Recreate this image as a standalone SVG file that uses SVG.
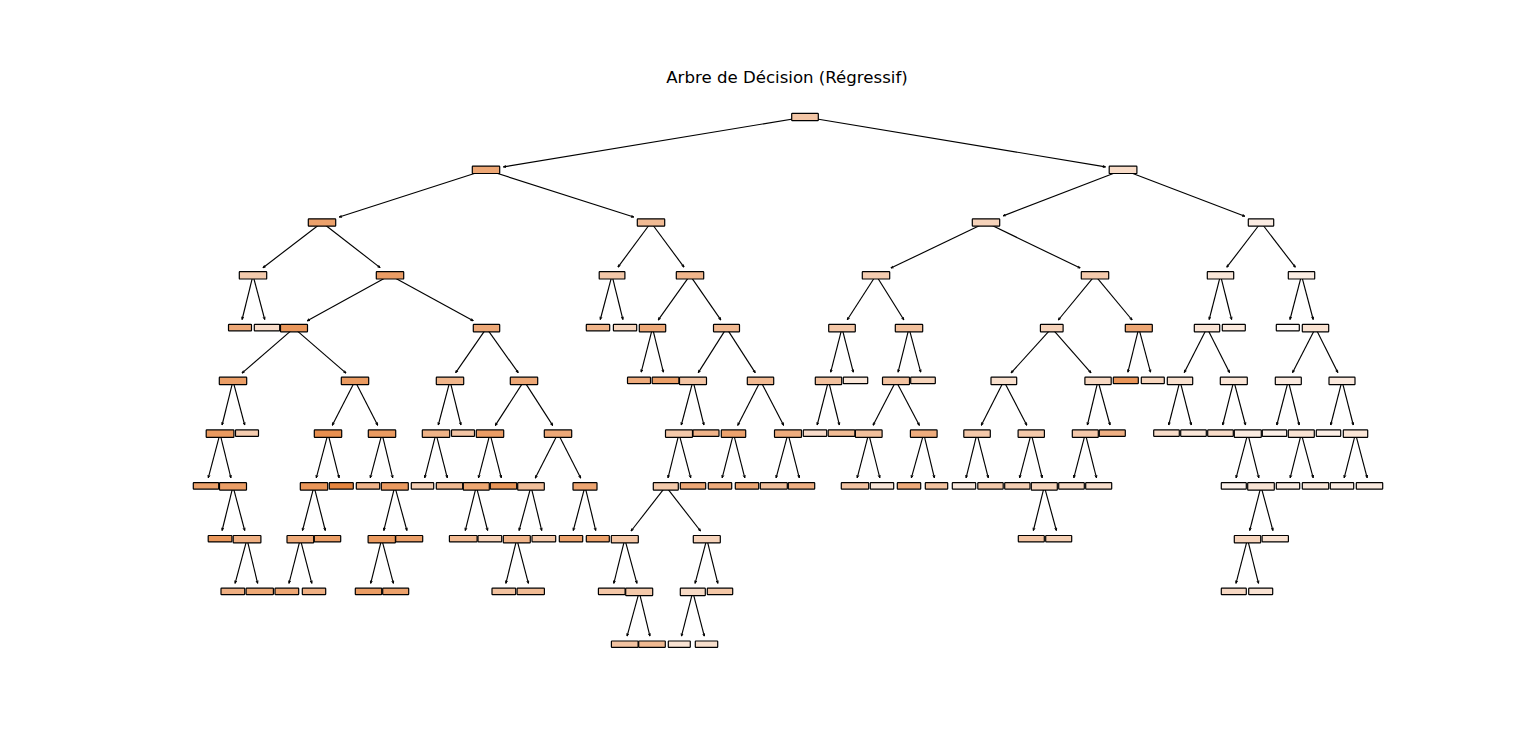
<svg xmlns="http://www.w3.org/2000/svg" width="1536" height="754" viewBox="0 0 1536 754">
<style>
.bg{fill:#ffffff}
.title{font-family:"DejaVu Sans","Liberation Sans",sans-serif;font-size:16.6px;fill:#000}
.node rect{stroke:#000;stroke-width:1.2;rx:0.6;ry:0.6}
.edges line{stroke:#000;stroke-width:1.15;fill:none;marker-end:url(#ah)}
</style>
<defs>
<marker id="ah" markerUnits="userSpaceOnUse" markerWidth="3.4" markerHeight="3.4" viewBox="0 0 3 3" refX="2.6" refY="1.5" orient="auto">
<path d="M0.3,0.6 L2.6,1.5 L0.3,2.4" fill="none" stroke="#000" stroke-width="0.8"/>
</marker>
</defs>
<rect class="bg" x="0" y="0" width="1536" height="754"/>
<text class="title" x="787" y="82.6" text-anchor="middle">Arbre de Décision (Régressif)</text>
<g id="connectors" class="edges">
<line x1="805" y1="117" x2="503.4" y2="166.9"/>
<line x1="805" y1="117" x2="1105.5" y2="166.9"/>
<line x1="486" y1="169.8" x2="339.3" y2="217.0"/>
<line x1="486" y1="169.8" x2="633.7" y2="217.0"/>
<line x1="1123" y1="169.8" x2="1003.2" y2="215.9"/>
<line x1="1123" y1="169.8" x2="1244.8" y2="216.3"/>
<line x1="322" y1="222.5" x2="263.0" y2="267.7"/>
<line x1="322" y1="222.5" x2="380.1" y2="267.6"/>
<line x1="651" y1="222.5" x2="618.0" y2="267.1"/>
<line x1="651" y1="222.5" x2="684.0" y2="267.1"/>
<line x1="986" y1="222.5" x2="890.9" y2="268.1"/>
<line x1="986" y1="222.5" x2="1080.2" y2="268.1"/>
<line x1="1261" y1="222.5" x2="1226.8" y2="267.2"/>
<line x1="1261" y1="222.5" x2="1295.3" y2="267.2"/>
<line x1="253" y1="275.3" x2="242.1" y2="319.5"/>
<line x1="253" y1="275.3" x2="264.7" y2="319.5"/>
<line x1="390" y1="275.3" x2="307.3" y2="320.8"/>
<line x1="390" y1="275.3" x2="473.2" y2="320.8"/>
<line x1="612" y1="275.3" x2="600.3" y2="319.5"/>
<line x1="612" y1="275.3" x2="622.9" y2="319.5"/>
<line x1="690" y1="275.3" x2="658.3" y2="319.9"/>
<line x1="690" y1="275.3" x2="720.8" y2="319.9"/>
<line x1="876" y1="275.3" x2="847.3" y2="319.8"/>
<line x1="876" y1="275.3" x2="903.8" y2="319.8"/>
<line x1="1095" y1="275.3" x2="1058.3" y2="320.0"/>
<line x1="1095" y1="275.3" x2="1132.1" y2="320.0"/>
<line x1="1220.5" y1="275.3" x2="1209.2" y2="319.5"/>
<line x1="1220.5" y1="275.3" x2="1231.6" y2="319.5"/>
<line x1="1301.5" y1="275.3" x2="1290.0" y2="319.5"/>
<line x1="1301.5" y1="275.3" x2="1313.2" y2="319.5"/>
<line x1="294" y1="328.1" x2="242.0" y2="373.1"/>
<line x1="294" y1="328.1" x2="346.0" y2="373.1"/>
<line x1="486.5" y1="328.1" x2="455.7" y2="372.6"/>
<line x1="486.5" y1="328.1" x2="518.2" y2="372.7"/>
<line x1="652.5" y1="328.1" x2="641.2" y2="372.2"/>
<line x1="652.5" y1="328.1" x2="663.4" y2="372.2"/>
<line x1="726.5" y1="328.1" x2="698.3" y2="372.6"/>
<line x1="726.5" y1="328.1" x2="755.2" y2="372.6"/>
<line x1="842" y1="328.1" x2="830.7" y2="372.2"/>
<line x1="842" y1="328.1" x2="853.3" y2="372.2"/>
<line x1="909" y1="328.1" x2="898.1" y2="372.2"/>
<line x1="909" y1="328.1" x2="920.7" y2="372.2"/>
<line x1="1051.7" y1="328.1" x2="1011.1" y2="372.9"/>
<line x1="1051.7" y1="328.1" x2="1091.0" y2="372.8"/>
<line x1="1138.8" y1="328.1" x2="1127.9" y2="372.2"/>
<line x1="1138.8" y1="328.1" x2="1150.5" y2="372.2"/>
<line x1="1207" y1="328.1" x2="1184.3" y2="372.5"/>
<line x1="1207" y1="328.1" x2="1229.5" y2="372.5"/>
<line x1="1315.5" y1="328.1" x2="1292.6" y2="372.5"/>
<line x1="1315.5" y1="328.1" x2="1337.8" y2="372.5"/>
<line x1="233" y1="380.9" x2="222.1" y2="425.0"/>
<line x1="233" y1="380.9" x2="244.7" y2="425.0"/>
<line x1="355" y1="380.9" x2="332.3" y2="425.2"/>
<line x1="355" y1="380.9" x2="377.7" y2="425.2"/>
<line x1="450" y1="380.9" x2="438.3" y2="425.0"/>
<line x1="450" y1="380.9" x2="460.9" y2="425.0"/>
<line x1="524" y1="380.9" x2="495.3" y2="425.4"/>
<line x1="524" y1="380.9" x2="552.7" y2="425.4"/>
<line x1="693" y1="380.9" x2="681.3" y2="425.0"/>
<line x1="693" y1="380.9" x2="703.9" y2="425.0"/>
<line x1="760.5" y1="380.9" x2="737.8" y2="425.2"/>
<line x1="760.5" y1="380.9" x2="783.6" y2="425.2"/>
<line x1="828.5" y1="380.9" x2="817.2" y2="425.0"/>
<line x1="828.5" y1="380.9" x2="839.4" y2="425.0"/>
<line x1="896" y1="380.9" x2="873.1" y2="425.2"/>
<line x1="896" y1="380.9" x2="919.3" y2="425.2"/>
<line x1="1003.8" y1="380.9" x2="981.3" y2="425.2"/>
<line x1="1003.8" y1="380.9" x2="1026.8" y2="425.2"/>
<line x1="1098" y1="380.9" x2="1087.4" y2="425.0"/>
<line x1="1098" y1="380.9" x2="1110.0" y2="425.0"/>
<line x1="1180" y1="380.9" x2="1168.7" y2="425.0"/>
<line x1="1180" y1="380.9" x2="1191.3" y2="425.0"/>
<line x1="1233.8" y1="380.9" x2="1222.7" y2="425.0"/>
<line x1="1233.8" y1="380.9" x2="1245.5" y2="425.0"/>
<line x1="1288.3" y1="380.9" x2="1276.8" y2="425.0"/>
<line x1="1288.3" y1="380.9" x2="1299.2" y2="425.0"/>
<line x1="1342" y1="380.9" x2="1330.7" y2="425.0"/>
<line x1="1342" y1="380.9" x2="1353.3" y2="425.0"/>
<line x1="220" y1="433.6" x2="208.3" y2="477.8"/>
<line x1="220" y1="433.6" x2="230.9" y2="477.8"/>
<line x1="328" y1="433.6" x2="316.3" y2="477.8"/>
<line x1="328" y1="433.6" x2="339.1" y2="477.8"/>
<line x1="382" y1="433.6" x2="370.3" y2="477.8"/>
<line x1="382" y1="433.6" x2="392.7" y2="477.8"/>
<line x1="436" y1="433.6" x2="424.7" y2="477.8"/>
<line x1="436" y1="433.6" x2="447.3" y2="477.8"/>
<line x1="490" y1="433.6" x2="478.5" y2="477.8"/>
<line x1="490" y1="433.6" x2="501.3" y2="477.8"/>
<line x1="558" y1="433.6" x2="535.3" y2="478.0"/>
<line x1="558" y1="433.6" x2="580.7" y2="478.0"/>
<line x1="679" y1="433.6" x2="668.0" y2="477.8"/>
<line x1="679" y1="433.6" x2="690.7" y2="477.8"/>
<line x1="733.5" y1="433.6" x2="722.2" y2="477.8"/>
<line x1="733.5" y1="433.6" x2="744.8" y2="477.8"/>
<line x1="788" y1="433.6" x2="776.1" y2="477.8"/>
<line x1="788" y1="433.6" x2="799.3" y2="477.8"/>
<line x1="868.7" y1="433.6" x2="857.2" y2="477.8"/>
<line x1="868.7" y1="433.6" x2="879.8" y2="477.8"/>
<line x1="923.7" y1="433.6" x2="911.4" y2="477.8"/>
<line x1="923.7" y1="433.6" x2="934.4" y2="477.8"/>
<line x1="977" y1="433.6" x2="966.1" y2="477.8"/>
<line x1="977" y1="433.6" x2="988.3" y2="477.8"/>
<line x1="1031.2" y1="433.6" x2="1019.6" y2="477.8"/>
<line x1="1031.2" y1="433.6" x2="1042.2" y2="477.8"/>
<line x1="1085.3" y1="433.6" x2="1073.8" y2="477.8"/>
<line x1="1085.3" y1="433.6" x2="1096.5" y2="477.8"/>
<line x1="1247.8" y1="433.6" x2="1236.1" y2="477.8"/>
<line x1="1247.8" y1="433.6" x2="1258.8" y2="477.8"/>
<line x1="1301.3" y1="433.6" x2="1290.2" y2="477.8"/>
<line x1="1301.3" y1="433.6" x2="1313.2" y2="477.8"/>
<line x1="1355.5" y1="433.6" x2="1344.2" y2="477.8"/>
<line x1="1355.5" y1="433.6" x2="1367.2" y2="477.8"/>
<line x1="233" y1="486.4" x2="222.1" y2="530.5"/>
<line x1="233" y1="486.4" x2="244.7" y2="530.5"/>
<line x1="314" y1="486.4" x2="302.5" y2="530.5"/>
<line x1="314" y1="486.4" x2="325.3" y2="530.5"/>
<line x1="394.8" y1="486.4" x2="383.8" y2="530.5"/>
<line x1="394.8" y1="486.4" x2="406.9" y2="530.5"/>
<line x1="476.3" y1="486.4" x2="465.3" y2="530.5"/>
<line x1="476.3" y1="486.4" x2="487.6" y2="530.5"/>
<line x1="531" y1="486.4" x2="519.1" y2="530.5"/>
<line x1="531" y1="486.4" x2="541.7" y2="530.5"/>
<line x1="585" y1="486.4" x2="573.3" y2="530.5"/>
<line x1="585" y1="486.4" x2="595.7" y2="530.5"/>
<line x1="665.8" y1="486.4" x2="631.1" y2="531.0"/>
<line x1="665.8" y1="486.4" x2="700.5" y2="531.0"/>
<line x1="1044.3" y1="486.4" x2="1033.4" y2="530.5"/>
<line x1="1044.3" y1="486.4" x2="1056.4" y2="530.5"/>
<line x1="1261" y1="486.4" x2="1249.7" y2="530.5"/>
<line x1="1261" y1="486.4" x2="1272.9" y2="530.5"/>
<line x1="247" y1="539.2" x2="235.1" y2="583.3"/>
<line x1="247" y1="539.2" x2="257.6" y2="583.3"/>
<line x1="300.3" y1="539.2" x2="289.0" y2="583.3"/>
<line x1="300.3" y1="539.2" x2="311.8" y2="583.3"/>
<line x1="381.7" y1="539.2" x2="370.7" y2="583.3"/>
<line x1="381.7" y1="539.2" x2="393.4" y2="583.3"/>
<line x1="516.8" y1="539.2" x2="505.9" y2="583.3"/>
<line x1="516.8" y1="539.2" x2="528.4" y2="583.3"/>
<line x1="624.8" y1="539.2" x2="613.8" y2="583.3"/>
<line x1="624.8" y1="539.2" x2="636.9" y2="583.3"/>
<line x1="706.8" y1="539.2" x2="695.1" y2="583.3"/>
<line x1="706.8" y1="539.2" x2="717.8" y2="583.3"/>
<line x1="1247.5" y1="539.2" x2="1236.0" y2="583.3"/>
<line x1="1247.5" y1="539.2" x2="1258.5" y2="583.3"/>
<line x1="639.2" y1="591.9" x2="627.1" y2="636.1"/>
<line x1="639.2" y1="591.9" x2="649.9" y2="636.1"/>
<line x1="692.8" y1="591.9" x2="681.5" y2="636.1"/>
<line x1="692.8" y1="591.9" x2="704.3" y2="636.1"/>
</g>
<g id="n0" class="node"><rect x="791.7" y="113.3" width="26.6" height="7.4" fill="#f3c6a6"/></g>
<g id="n1" class="node"><rect x="472.3" y="166.1" width="27.4" height="7.4" fill="#eda775"/></g>
<g id="n2" class="node"><rect x="1109.2" y="166.1" width="27.7" height="7.4" fill="#f8dcc8"/></g>
<g id="n3" class="node"><rect x="308.3" y="218.8" width="27.4" height="7.4" fill="#eca16b"/></g>
<g id="n4" class="node"><rect x="637.3" y="218.8" width="27.4" height="7.4" fill="#f1bb94"/></g>
<g id="n5" class="node"><rect x="972.3" y="218.8" width="27.4" height="7.4" fill="#f6d3ba"/></g>
<g id="n6" class="node"><rect x="1248.3" y="218.8" width="25.4" height="7.4" fill="#fbece2"/></g>
<g id="n7" class="node"><rect x="239.3" y="271.6" width="27.4" height="7.4" fill="#f4cbad"/></g>
<g id="n8" class="node"><rect x="376.3" y="271.6" width="27.4" height="7.4" fill="#eb9d65"/></g>
<g id="n9" class="node"><rect x="599.2" y="271.6" width="25.7" height="7.4" fill="#f4c8a9"/></g>
<g id="n10" class="node"><rect x="676.3" y="271.6" width="27.4" height="7.4" fill="#f1b68c"/></g>
<g id="n11" class="node"><rect x="862.3" y="271.6" width="27.4" height="7.4" fill="#f5cdb1"/></g>
<g id="n12" class="node"><rect x="1081.3" y="271.6" width="27.4" height="7.4" fill="#f5cbad"/></g>
<g id="n13" class="node"><rect x="1207.3" y="271.6" width="26.4" height="7.4" fill="#fae7d9"/></g>
<g id="n14" class="node"><rect x="1288.3" y="271.6" width="26.4" height="7.4" fill="#fbede3"/></g>
<g id="n15" class="node"><rect x="228.5" y="324.4" width="23" height="6.4" fill="#eda877"/></g>
<g id="n16" class="node"><rect x="254.3" y="324.4" width="25.4" height="6.4" fill="#f8dcc9"/></g>
<g id="n17" class="node"><rect x="280.5" y="324.4" width="27" height="7.4" fill="#e9965a"/></g>
<g id="n18" class="node"><rect x="473.3" y="324.4" width="26.4" height="7.4" fill="#eda877"/></g>
<g id="n19" class="node"><rect x="586.3" y="324.4" width="23.4" height="6.4" fill="#f0b58a"/></g>
<g id="n20" class="node"><rect x="613.4" y="324.4" width="23.3" height="6.4" fill="#f6d5bd"/></g>
<g id="n21" class="node"><rect x="639.3" y="324.4" width="26.4" height="7.4" fill="#eda877"/></g>
<g id="n22" class="node"><rect x="713.5" y="324.4" width="26" height="7.4" fill="#f1b991"/></g>
<g id="n23" class="node"><rect x="828.7" y="324.4" width="26.6" height="7.4" fill="#f4c7a7"/></g>
<g id="n24" class="node"><rect x="895.3" y="324.4" width="27.4" height="7.4" fill="#f2c09c"/></g>
<g id="n25" class="node"><rect x="1040.4" y="324.4" width="22.7" height="7.4" fill="#f6d2b9"/></g>
<g id="n26" class="node"><rect x="1125.3" y="324.4" width="27" height="7.4" fill="#eda673"/></g>
<g id="n27" class="node"><rect x="1194.3" y="324.4" width="25.4" height="7.4" fill="#f9e3d4"/></g>
<g id="n28" class="node"><rect x="1222.3" y="324.4" width="23" height="6.4" fill="#fbeade"/></g>
<g id="n29" class="node"><rect x="1276.3" y="324.4" width="23" height="6.4" fill="#fdf8f5"/></g>
<g id="n30" class="node"><rect x="1302.3" y="324.4" width="26.4" height="7.4" fill="#f9e2d1"/></g>
<g id="n31" class="node"><rect x="219.3" y="377.2" width="27.4" height="7.4" fill="#eb9e66"/></g>
<g id="n32" class="node"><rect x="341.3" y="377.2" width="27.4" height="7.4" fill="#ea9a60"/></g>
<g id="n33" class="node"><rect x="436.3" y="377.2" width="27.4" height="7.4" fill="#f0b58a"/></g>
<g id="n34" class="node"><rect x="510.3" y="377.2" width="27.4" height="7.4" fill="#eda775"/></g>
<g id="n35" class="node"><rect x="627.5" y="377.2" width="23" height="6.4" fill="#eeab7c"/></g>
<g id="n36" class="node"><rect x="652.2" y="377.2" width="26.7" height="6.4" fill="#eb9f68"/></g>
<g id="n37" class="node"><rect x="679.5" y="377.2" width="27" height="7.4" fill="#f3c4a3"/></g>
<g id="n38" class="node"><rect x="747.3" y="377.2" width="26.4" height="7.4" fill="#f1b991"/></g>
<g id="n39" class="node"><rect x="815.3" y="377.2" width="26.4" height="7.4" fill="#f2c19e"/></g>
<g id="n40" class="node"><rect x="843.3" y="377.2" width="24.4" height="6.4" fill="#fae7d9"/></g>
<g id="n41" class="node"><rect x="882.5" y="377.2" width="27" height="7.4" fill="#f3c3a1"/></g>
<g id="n42" class="node"><rect x="910.7" y="377.2" width="24.6" height="6.4" fill="#f6d4bb"/></g>
<g id="n43" class="node"><rect x="991.0" y="377.2" width="25.7" height="7.4" fill="#f8dfcc"/></g>
<g id="n44" class="node"><rect x="1084.9" y="377.2" width="26.3" height="7.4" fill="#f7d8c2"/></g>
<g id="n45" class="node"><rect x="1113.3" y="377.2" width="25" height="6.4" fill="#e99559"/></g>
<g id="n46" class="node"><rect x="1141.3" y="377.2" width="23" height="6.4" fill="#f7d6be"/></g>
<g id="n47" class="node"><rect x="1167.3" y="377.2" width="25.4" height="7.4" fill="#f8e0ce"/></g>
<g id="n48" class="node"><rect x="1220.3" y="377.2" width="27" height="7.4" fill="#fae5d6"/></g>
<g id="n49" class="node"><rect x="1275.3" y="377.2" width="26" height="7.4" fill="#fbeadf"/></g>
<g id="n50" class="node"><rect x="1329" y="377.2" width="26" height="7.4" fill="#fbe9dd"/></g>
<g id="n51" class="node"><rect x="206.2" y="429.9" width="27.7" height="7.4" fill="#ea9a5f"/></g>
<g id="n52" class="node"><rect x="235.5" y="429.9" width="23" height="6.4" fill="#f5cdb0"/></g>
<g id="n53" class="node"><rect x="314.3" y="429.9" width="27.4" height="7.4" fill="#e88f4f"/></g>
<g id="n54" class="node"><rect x="368.3" y="429.9" width="27.4" height="7.4" fill="#ea9b61"/></g>
<g id="n55" class="node"><rect x="422.3" y="429.9" width="27.4" height="7.4" fill="#efb387"/></g>
<g id="n56" class="node"><rect x="451.5" y="429.9" width="23" height="6.4" fill="#f3c5a5"/></g>
<g id="n57" class="node"><rect x="476.3" y="429.9" width="27.4" height="7.4" fill="#eb9d65"/></g>
<g id="n58" class="node"><rect x="544.3" y="429.9" width="27.4" height="7.4" fill="#eda877"/></g>
<g id="n59" class="node"><rect x="665.5" y="429.9" width="27" height="7.4" fill="#f4c9aa"/></g>
<g id="n60" class="node"><rect x="693" y="429.9" width="26" height="6.4" fill="#f0b48a"/></g>
<g id="n61" class="node"><rect x="721.3" y="429.9" width="24.4" height="7.4" fill="#eca26d"/></g>
<g id="n62" class="node"><rect x="774.5" y="429.9" width="27" height="7.4" fill="#eeac7d"/></g>
<g id="n63" class="node"><rect x="803.3" y="429.9" width="23.4" height="6.4" fill="#f8dccb"/></g>
<g id="n64" class="node"><rect x="828.2" y="429.9" width="26.7" height="6.4" fill="#f1bc95"/></g>
<g id="n65" class="node"><rect x="855.4" y="429.9" width="26.7" height="7.4" fill="#f2c09c"/></g>
<g id="n66" class="node"><rect x="910.4" y="429.9" width="26.7" height="7.4" fill="#eeac7d"/></g>
<g id="n67" class="node"><rect x="963.8" y="429.9" width="26.5" height="7.4" fill="#f4c8a9"/></g>
<g id="n68" class="node"><rect x="1018.1" y="429.9" width="26.3" height="7.4" fill="#f4c9aa"/></g>
<g id="n69" class="node"><rect x="1072.3" y="429.9" width="26" height="7.4" fill="#f4c8aa"/></g>
<g id="n70" class="node"><rect x="1099.3" y="429.9" width="26" height="6.4" fill="#efb084"/></g>
<g id="n71" class="node"><rect x="1153.7" y="429.9" width="25.6" height="6.4" fill="#f8ddca"/></g>
<g id="n72" class="node"><rect x="1180.7" y="429.9" width="25.6" height="6.4" fill="#fae7d9"/></g>
<g id="n73" class="node"><rect x="1207.7" y="429.9" width="25.6" height="6.4" fill="#f8dcc8"/></g>
<g id="n74" class="node"><rect x="1234.3" y="429.9" width="27" height="7.4" fill="#faebe0"/></g>
<g id="n75" class="node"><rect x="1262.3" y="429.9" width="24.4" height="6.4" fill="#fcf0e8"/></g>
<g id="n76" class="node"><rect x="1288.3" y="429.9" width="26" height="7.4" fill="#f9e3d3"/></g>
<g id="n77" class="node"><rect x="1316.3" y="429.9" width="24.4" height="6.4" fill="#fcefe6"/></g>
<g id="n78" class="node"><rect x="1343.3" y="429.9" width="24.4" height="7.4" fill="#fae6d7"/></g>
<g id="n79" class="node"><rect x="193.3" y="482.7" width="25.4" height="6.4" fill="#eca26c"/></g>
<g id="n80" class="node"><rect x="219.5" y="482.7" width="27" height="7.4" fill="#eb9e66"/></g>
<g id="n81" class="node"><rect x="300.3" y="482.7" width="27.4" height="7.4" fill="#ea9659"/></g>
<g id="n82" class="node"><rect x="329.3" y="482.7" width="24" height="6.4" fill="#e68640"/></g>
<g id="n83" class="node"><rect x="356.3" y="482.7" width="23.4" height="6.4" fill="#f0b48a"/></g>
<g id="n84" class="node"><rect x="381.3" y="482.7" width="27" height="7.4" fill="#ea9a60"/></g>
<g id="n85" class="node"><rect x="411.3" y="482.7" width="22.4" height="6.4" fill="#f5cfb3"/></g>
<g id="n86" class="node"><rect x="436.3" y="482.7" width="26.4" height="6.4" fill="#f1ba92"/></g>
<g id="n87" class="node"><rect x="463.3" y="482.7" width="26" height="7.4" fill="#eea873"/></g>
<g id="n88" class="node"><rect x="490.3" y="482.7" width="26.4" height="6.4" fill="#e99659"/></g>
<g id="n89" class="node"><rect x="517.7" y="482.7" width="26.6" height="7.4" fill="#f2bf9a"/></g>
<g id="n90" class="node"><rect x="573" y="482.7" width="24" height="7.4" fill="#eda571"/></g>
<g id="n91" class="node"><rect x="653.3" y="482.7" width="25" height="7.4" fill="#f4caab"/></g>
<g id="n92" class="node"><rect x="680.3" y="482.7" width="25.4" height="6.4" fill="#eda877"/></g>
<g id="n93" class="node"><rect x="708.3" y="482.7" width="23.4" height="6.4" fill="#eeac7d"/></g>
<g id="n94" class="node"><rect x="735.3" y="482.7" width="23.4" height="6.4" fill="#eda774"/></g>
<g id="n95" class="node"><rect x="760.3" y="482.7" width="27" height="6.4" fill="#f2c09c"/></g>
<g id="n96" class="node"><rect x="788.3" y="482.7" width="26.4" height="6.4" fill="#efb084"/></g>
<g id="n97" class="node"><rect x="841.3" y="482.7" width="27.4" height="6.4" fill="#f3c4a3"/></g>
<g id="n98" class="node"><rect x="870.3" y="482.7" width="23.4" height="6.4" fill="#fae6d8"/></g>
<g id="n99" class="node"><rect x="897.3" y="482.7" width="23.4" height="6.4" fill="#eeab7b"/></g>
<g id="n100" class="node"><rect x="925.3" y="482.7" width="22.4" height="6.4" fill="#f3c3a0"/></g>
<g id="n101" class="node"><rect x="952.3" y="482.7" width="23.4" height="6.4" fill="#fae8dc"/></g>
<g id="n102" class="node"><rect x="977.8" y="482.7" width="25.4" height="6.4" fill="#f4caac"/></g>
<g id="n103" class="node"><rect x="1004.7" y="482.7" width="25.3" height="6.4" fill="#f5cfb4"/></g>
<g id="n104" class="node"><rect x="1031.3" y="482.7" width="26" height="7.4" fill="#f6d4bb"/></g>
<g id="n105" class="node"><rect x="1058.7" y="482.7" width="25.6" height="6.4" fill="#f7d9c3"/></g>
<g id="n106" class="node"><rect x="1085.7" y="482.7" width="26" height="6.4" fill="#f8decb"/></g>
<g id="n107" class="node"><rect x="1221.3" y="482.7" width="25" height="6.4" fill="#fcf1ea"/></g>
<g id="n108" class="node"><rect x="1247.7" y="482.7" width="26.6" height="7.4" fill="#f9e4d4"/></g>
<g id="n109" class="node"><rect x="1276.3" y="482.7" width="23.4" height="6.4" fill="#fbece1"/></g>
<g id="n110" class="node"><rect x="1302.3" y="482.7" width="26.4" height="6.4" fill="#fae7d9"/></g>
<g id="n111" class="node"><rect x="1330.3" y="482.7" width="23.4" height="6.4" fill="#fbece2"/></g>
<g id="n112" class="node"><rect x="1356.3" y="482.7" width="26.4" height="6.4" fill="#faeadf"/></g>
<g id="n113" class="node"><rect x="208.2" y="535.5" width="23.7" height="6.4" fill="#e9975b"/></g>
<g id="n114" class="node"><rect x="233.2" y="535.5" width="27.7" height="7.4" fill="#efb083"/></g>
<g id="n115" class="node"><rect x="287.0" y="535.5" width="26.7" height="7.4" fill="#eeaa79"/></g>
<g id="n116" class="node"><rect x="314.3" y="535.5" width="26.4" height="6.4" fill="#eb9e66"/></g>
<g id="n117" class="node"><rect x="368.1" y="535.5" width="27.3" height="7.4" fill="#ea9a5f"/></g>
<g id="n118" class="node"><rect x="395.7" y="535.5" width="27" height="6.4" fill="#eb9f68"/></g>
<g id="n119" class="node"><rect x="449.4" y="535.5" width="27.7" height="6.4" fill="#f1b991"/></g>
<g id="n120" class="node"><rect x="478.0" y="535.5" width="23.7" height="6.4" fill="#f6d2b8"/></g>
<g id="n121" class="node"><rect x="503.3" y="535.5" width="27" height="7.4" fill="#f0b58b"/></g>
<g id="n122" class="node"><rect x="532.0" y="535.5" width="23.7" height="6.4" fill="#f4c8a9"/></g>
<g id="n123" class="node"><rect x="559.3" y="535.5" width="23.4" height="6.4" fill="#eca26c"/></g>
<g id="n124" class="node"><rect x="586.3" y="535.5" width="23" height="6.4" fill="#eca16a"/></g>
<g id="n125" class="node"><rect x="611.3" y="535.5" width="27" height="7.4" fill="#f3c5a4"/></g>
<g id="n126" class="node"><rect x="693.3" y="535.5" width="27" height="7.4" fill="#f6d3ba"/></g>
<g id="n127" class="node"><rect x="1018.3" y="535.5" width="26" height="6.4" fill="#f3c4a3"/></g>
<g id="n128" class="node"><rect x="1045.7" y="535.5" width="26" height="6.4" fill="#f5cfb3"/></g>
<g id="n129" class="node"><rect x="1234.3" y="535.5" width="26.4" height="7.4" fill="#f6d4bc"/></g>
<g id="n130" class="node"><rect x="1262.1" y="535.5" width="26.3" height="6.4" fill="#f9e1d0"/></g>
<g id="n131" class="node"><rect x="221.0" y="588.2" width="23.7" height="6.4" fill="#efaf82"/></g>
<g id="n132" class="node"><rect x="246.1" y="588.2" width="27.3" height="6.4" fill="#eea976"/></g>
<g id="n133" class="node"><rect x="275.0" y="588.2" width="23.7" height="6.4" fill="#eda673"/></g>
<g id="n134" class="node"><rect x="302.3" y="588.2" width="23.4" height="6.4" fill="#efb083"/></g>
<g id="n135" class="node"><rect x="355.3" y="588.2" width="26.4" height="6.4" fill="#eb9d64"/></g>
<g id="n136" class="node"><rect x="382.7" y="588.2" width="26" height="6.4" fill="#eca16b"/></g>
<g id="n137" class="node"><rect x="492.0" y="588.2" width="23.7" height="6.4" fill="#f2c29f"/></g>
<g id="n138" class="node"><rect x="517.1" y="588.2" width="27.3" height="6.4" fill="#f1bb94"/></g>
<g id="n139" class="node"><rect x="598.4" y="588.2" width="26.7" height="6.4" fill="#f4c7a7"/></g>
<g id="n140" class="node"><rect x="625.7" y="588.2" width="27" height="7.4" fill="#f4c9aa"/></g>
<g id="n141" class="node"><rect x="680.3" y="588.2" width="25" height="7.4" fill="#f7dac5"/></g>
<g id="n142" class="node"><rect x="707.3" y="588.2" width="25.4" height="6.4" fill="#f4c7a6"/></g>
<g id="n143" class="node"><rect x="1221.3" y="588.2" width="25" height="6.4" fill="#f7d8c3"/></g>
<g id="n144" class="node"><rect x="1248.7" y="588.2" width="24" height="6.4" fill="#f9e2d2"/></g>
<g id="n145" class="node"><rect x="611.4" y="641.0" width="26.7" height="6.4" fill="#f3c3a1"/></g>
<g id="n146" class="node"><rect x="638.7" y="641.0" width="26.6" height="6.4" fill="#f1ba92"/></g>
<g id="n147" class="node"><rect x="668.3" y="641.0" width="22" height="6.4" fill="#f9e3d3"/></g>
<g id="n148" class="node"><rect x="695.3" y="641.0" width="22.4" height="6.4" fill="#f8dfcc"/></g>
</svg>
